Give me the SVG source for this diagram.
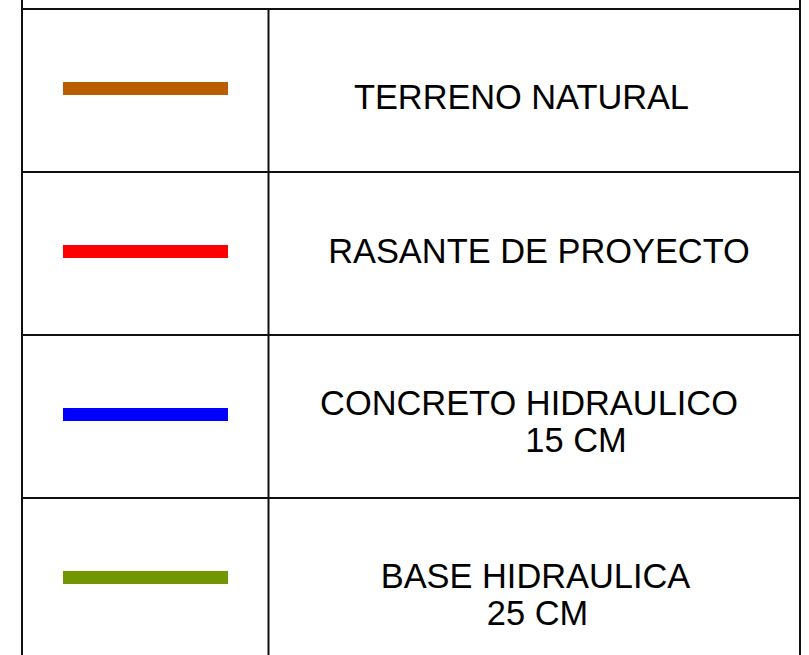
<svg xmlns="http://www.w3.org/2000/svg" width="809" height="655" viewBox="0 0 809 655">
<style>
.grid line{stroke:#111;stroke-width:2;fill:none}
.lbl{font-family:"Liberation Sans",Arial,sans-serif;font-size:34.4px;fill:#000;text-anchor:middle}
</style>
<rect width="809" height="655" fill="#fff"/>
<g id="connectors" class="grid">
<line x1="22" y1="0" x2="22" y2="655"/>
<line x1="800" y1="0" x2="800" y2="655"/>
<line x1="268.5" y1="9" x2="268.5" y2="655"/>
<line x1="22" y1="9" x2="800" y2="9"/>
<line x1="22" y1="172" x2="800" y2="172"/>
<line x1="22" y1="335" x2="800" y2="335"/>
<line x1="22" y1="498" x2="800" y2="498"/>
</g>
<g id="row-terreno">
<rect x="63" y="82" width="165" height="13" fill="#BA5D00"/>
<text class="lbl" x="521.5" y="108.5" textLength="335" lengthAdjust="spacing">TERRENO NATURAL</text>
</g>
<g id="row-rasante">
<rect x="63" y="245" width="165" height="13" fill="#FF0000"/>
<text class="lbl" x="539" y="262.5">RASANTE DE PROYECTO</text>
</g>
<g id="row-concreto">
<rect x="63" y="408" width="165" height="13" fill="#0000FF"/>
<text class="lbl" x="529" y="415">CONCRETO HIDRAULICO</text>
<text class="lbl" x="576" y="451.5">15 CM</text>
</g>
<g id="row-base">
<rect x="63" y="571" width="165" height="13" fill="#719600"/>
<text class="lbl" x="535.5" y="588">BASE HIDRAULICA</text>
<text class="lbl" x="537.5" y="625">25 CM</text>
</g>
</svg>
